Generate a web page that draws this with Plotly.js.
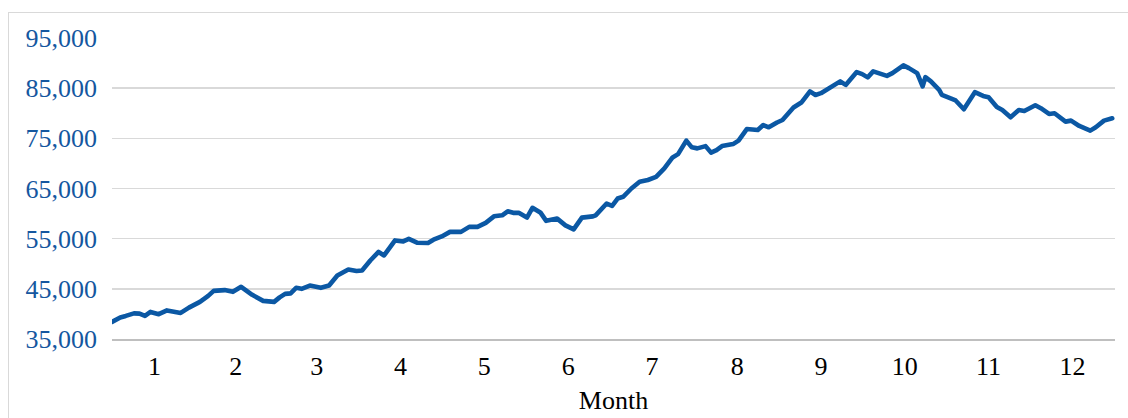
<!DOCTYPE html>
<html>
<head>
<meta charset="utf-8">
<script src="https://cdn.plot.ly/plotly-3.0.1.min.js"></script>
<style>
  html, body { margin: 0; padding: 0; background: #ffffff; }
  #wrap { position: relative; width: 1128px; height: 418px; overflow: hidden; }
  #chart { position: absolute; left: 0; top: 0; width: 1128px; height: 418px; }
  #frame { position: absolute; left: 8px; top: 12px; width: 1300px; height: 600px;
           border-left: 1px solid #d9d9d9; border-top: 1px solid #d9d9d9; pointer-events: none; }
</style>
</head>
<body>
<div id="wrap">
  <div id="chart"></div>
  <div id="frame"></div>
</div>
<script>
// Day of year (0-based) at which each value was read
const days = [0, 3, 5, 8, 10, 12, 14, 17, 20, 25, 28, 32, 35, 37, 41, 44, 47, 51, 55, 59,
  61, 63, 65, 67, 69, 72, 76, 79, 82, 86, 89, 91, 94, 97, 99, 101, 103, 106, 108, 111,
  115, 117, 120, 123, 127, 130, 133, 136, 139, 142, 144, 146, 148, 151, 153, 156, 158, 162, 165, 168,
  171, 175, 176, 180, 182, 184, 186, 189, 192, 195, 198, 201, 204, 206, 209, 211, 213, 216, 218, 220,
  222, 226, 228, 231, 235, 237, 239, 242, 244, 248, 251, 254, 256, 258, 261, 262, 265, 267, 271, 273,
  275, 277, 278, 282, 284, 288, 290, 293, 295, 296, 298, 301, 302, 304, 307, 310, 312, 314, 317, 319,
  322, 324, 327, 330, 332, 336, 338, 341, 343, 347, 349, 352, 356, 358, 361, 364];

const values = [38400, 39300, 39600, 40100, 40050, 39600, 40400, 39950, 40700, 40200, 41250, 42400, 43600, 44600, 44750, 44400, 45400, 43800, 42600, 42400,
  43300, 44000, 44100, 45200, 45000, 45650, 45200, 45650, 47650, 48850, 48550, 48650, 50650, 52350, 51650, 53000, 54650, 54450, 54950, 54200,
  54150, 54800, 55450, 56350, 56350, 57350, 57350, 58150, 59450, 59650, 60450, 60150, 60150, 59200, 61150, 60150, 58550, 59000, 57650, 56850,
  59200, 59450, 59650, 62000, 61550, 63000, 63350, 65000, 66350, 66700, 67300, 69000, 71200, 71850, 74550, 73200, 73000, 73450, 72150, 72650,
  73450, 73850, 74550, 76850, 76650, 77650, 77200, 78150, 78650, 81150, 82200, 84350, 83650, 84000, 85000, 85350, 86350, 85650, 88200, 87800,
  87150, 88350, 88200, 87450, 88000, 89550, 89000, 88000, 85350, 87200, 86350, 84650, 83650, 83200, 82550, 80800, 82550, 84200, 83450, 83200,
  81250, 80650, 79200, 80660, 80460, 81600, 81000, 79860, 80000, 78330, 78530, 77460, 76530, 77200, 78530, 79000];

const monthLengths = [31, 28, 31, 30, 31, 30, 31, 31, 30, 31, 30, 31];
const monthLabels = ["1", "2", "3", "4", "5", "6", "7", "8", "9", "10", "11", "12"];
const yTicks = [35000, 45000, 55000, 65000, 75000, 85000, 95000];

const monthCenters = [];
let start = 0;
for (const len of monthLengths) { monthCenters.push(start + len / 2); start += len; }

const trace = {
  x: days, y: values, type: "scatter", mode: "lines",
  line: { color: "#0b58a4", width: 4.6, shape: "linear" },
  hoverinfo: "skip"
};

const serif = "'Liberation Serif', 'Times New Roman', serif";

const layout = {
  width: 1128, height: 418,
  margin: { l: 112, r: 13, t: 38, b: 79, pad: 0 },
  paper_bgcolor: "#ffffff", plot_bgcolor: "#ffffff",
  showlegend: false,
  font: { family: serif, size: 26, color: "#000000" },
  xaxis: {
    range: [0, 365], tickmode: "array", tickvals: monthCenters, ticktext: monthLabels,
    showgrid: false, zeroline: false, showline: true, linecolor: "#bfbfbf", linewidth: 1.5,
    ticks: "", ticklabelstandoff: 3,
    tickfont: { family: serif, size: 26, color: "#000000" },
    title: { text: "Month", standoff: 11, font: { family: serif, size: 26, color: "#000000" } },
    fixedrange: true
  },
  yaxis: {
    range: [35000, 95000], tickmode: "array", tickvals: yTicks,
    ticktext: yTicks.map(v => v.toLocaleString("en-US")),
    showgrid: true, gridcolor: "#d9d9d9", gridwidth: 1.5, zeroline: false, showline: false,
    ticks: "", ticklabelstandoff: 14,
    tickfont: { family: serif, size: 26, color: "#15579f" },
    fixedrange: true
  }
};

Plotly.newPlot("chart", [trace], layout, { displayModeBar: false, staticPlot: true }).then(() => {
  document.querySelectorAll("#chart path.js-line").forEach(p => {
    p.style.strokeLinejoin = "round";
    p.style.strokeLinecap = "round";
  });
});
</script>
</body>
</html>
